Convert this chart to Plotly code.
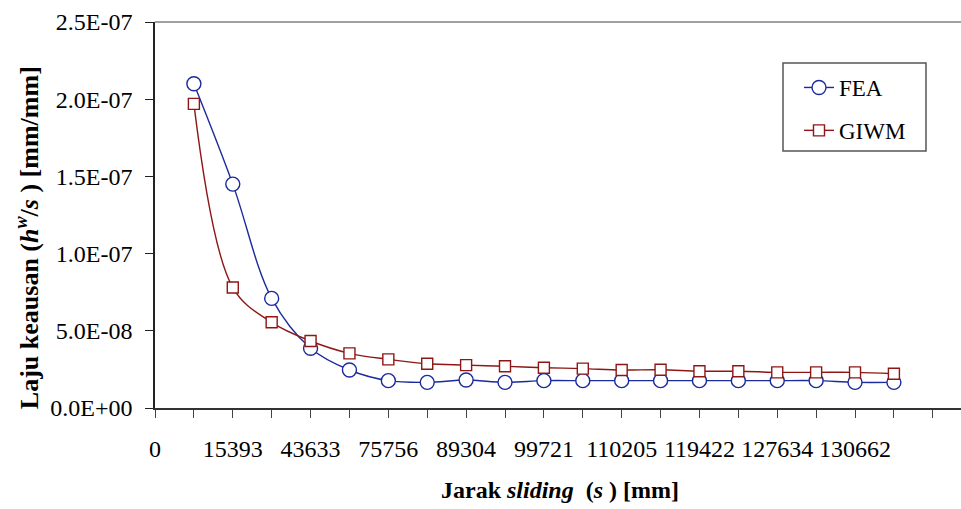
import plotly.graph_objects as go

# Category tick labels (shown at every other category position, starting at 0)
tick_labels = ["0", "15393", "43633", "75756", "89304", "99721",
               "110205", "119422", "127634", "130662"]
tick_label_pos = [0, 2, 4, 6, 8, 10, 12, 14, 16, 18]
all_cat_pos = [0, 1, 2, 3, 4, 5, 6, 7, 8, 9, 10, 11, 12, 13, 14, 15, 16, 17, 18, 19, 20]
# category positions of the data points
point_pos = [1, 2, 3, 4, 5, 6, 7, 8, 9, 10, 11, 12, 13, 14, 15, 16, 17, 18, 19]
fea = [2.10e-7, 1.45e-7, 7.1e-8, 3.87e-8, 2.46e-8, 1.77e-8, 1.66e-8, 1.81e-8,
       1.66e-8, 1.77e-8, 1.77e-8, 1.77e-8, 1.77e-8, 1.77e-8, 1.77e-8, 1.77e-8,
       1.77e-8, 1.66e-8, 1.66e-8]
giwm = [1.97e-7, 7.8e-8, 5.55e-8, 4.34e-8, 3.54e-8, 3.15e-8, 2.87e-8, 2.78e-8,
        2.70e-8, 2.61e-8, 2.55e-8, 2.46e-8, 2.48e-8, 2.38e-8, 2.38e-8, 2.31e-8,
        2.31e-8, 2.31e-8, 2.22e-8]
y_tickvals = [0, 5e-8, 1e-7, 1.5e-7, 2e-7, 2.5e-7]
y_ticktext = ["0.0E+00", "5.0E-08", "1.0E-07", "1.5E-07", "2.0E-07", "2.5E-07"]

FONT = "Liberation Serif"
BLUE = "#1B2A9C"
RED = "#8E1616"

L, R, T, B = 155, 961, 22, 408
PW, PH = R - L, B - T


def px_x(px):
    return (px - L) / PW


def px_y(py):
    return (B - py) / PH


fig = go.Figure()
fig.add_trace(go.Scatter(
    x=point_pos, y=fea, name="FEA", mode="lines+markers",
    line=dict(color=BLUE, width=1.4, shape="spline", smoothing=1.0),
    marker=dict(symbol="circle", size=14, color="white",
                line=dict(color=BLUE, width=1.4)),
    legendgroup="a",
))
fig.add_trace(go.Scatter(
    x=point_pos, y=giwm, name="GIWM", mode="lines+markers",
    line=dict(color=RED, width=1.4, shape="spline", smoothing=1.0),
    marker=dict(symbol="square", size=11, color="white",
                line=dict(color=RED, width=1.4)),
    legendgroup="b",
))

fig.update_layout(
    width=961, height=509,
    margin=dict(l=L, r=961 - R, t=T, b=509 - B),
    paper_bgcolor="white", plot_bgcolor="white",
    font=dict(family=FONT, size=24, color="black"),
    showlegend=True,
    legend=dict(
        x=px_x(799), y=px_y(66), xanchor="left", yanchor="top",
        borderwidth=0, bgcolor="rgba(0,0,0,0)",
        font=dict(family=FONT, size=23),
        traceorder="grouped", tracegroupgap=10,
    ),
    xaxis=dict(
        range=[0, PW / 38.89], showgrid=False, zeroline=False,
        tickmode="array", tickvals=tick_label_pos, ticktext=tick_labels,
        ticks="outside", ticklen=8, tickcolor="#444444", tickwidth=1,
        minor=dict(tickmode="array", tickvals=all_cat_pos, ticks="outside",
                   ticklen=8, tickcolor="#444444", tickwidth=1, showgrid=False),
        showline=True, linecolor="#333333", linewidth=1.5,
        ticklabelstandoff=10,
        tickfont=dict(family=FONT, size=24),
    ),
    yaxis=dict(
        range=[0, 2.5e-7], showgrid=False, zeroline=False,
        tickmode="array", tickvals=y_tickvals, ticktext=y_ticktext,
        ticks="outside", ticklen=8, tickcolor="#222222", tickwidth=1,
        showline=True, linecolor="#222222", linewidth=1.5,
        ticklabelstandoff=8,
        tickfont=dict(family=FONT, size=24),
    ),
    shapes=[
        dict(type="line", xref="paper", yref="paper", x0=0, x1=1, y0=1, y1=1,
             line=dict(color="#808080", width=1.5)),
        dict(type="rect", xref="paper", yref="paper", layer="above",
             x0=px_x(783), x1=px_x(926), y0=px_y(151), y1=px_y(63),
             fillcolor="white", line=dict(color="#555555", width=1.5)),
    ],
    annotations=[
        dict(text="<b>Laju keausan (<i>h</i><sup><i>w</i></sup>/<i>s</i> ) [mm/mm]</b>",
             xref="paper", yref="paper", x=px_x(27), y=0.44,
             xanchor="center", yanchor="middle", textangle=-90, showarrow=False,
             font=dict(family=FONT, size=26)),
        dict(text="<b>Jarak <i>sliding</i>  (<i>s</i> ) [mm]</b>",
             xref="paper", yref="paper", x=px_x(560), y=-0.212,
             xanchor="center", yanchor="middle", showarrow=False,
             font=dict(family=FONT, size=24)),
    ],
)

fig.write_html("out.html")
